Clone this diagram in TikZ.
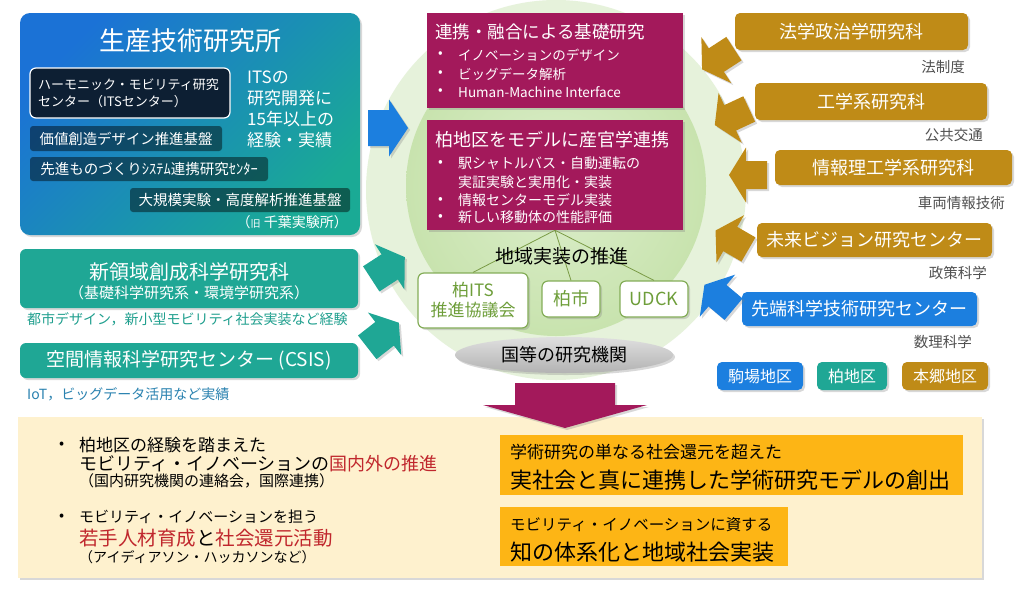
\documentclass[tikz,border=0pt]{standalone}
\usepackage{fontspec}
\setmainfont{Noto Sans CJK JP}
\usetikzlibrary{shadows,shapes.geometric}
\definecolor{cGold}{HTML}{BF8B17}
\definecolor{cTeal}{HTML}{1FA795}
\definecolor{cBlue}{HTML}{1C7FDF}
\definecolor{cMag}{HTML}{A3195B}
\definecolor{cOr}{HTML}{FDB515}
\definecolor{cCream}{HTML}{FEF1CE}
\definecolor{cRed}{HTML}{C0272D}
\definecolor{cGreen}{HTML}{6E9E3A}
\definecolor{cNavy}{HTML}{0D1F33}
\definecolor{cCap}{HTML}{505050}
\definecolor{cSkA}{HTML}{1B72D6}
\definecolor{cSkB}{HTML}{1AAA95}
\definecolor{cLG1}{HTML}{E6F2DB}
\definecolor{cLG2}{HTML}{C8E3AE}
\definecolor{cLG3}{HTML}{DCEECB}
\definecolor{cTealT}{HTML}{1F9F8E}
\definecolor{cBlueT}{HTML}{2A82B0}
\definecolor{cLine}{HTML}{7A9B45}
\newcommand{\fsz}[1]{\fontsize{#1}{#1}\selectfont}
\newcommand{\barrow}[8]{%
  \fill[#4, shd, shift={(#1,#2)}, rotate=#3]
    ({-#5/2},{-#7/2}) -- ({#5/2-#8},{-#7/2}) -- ({#5/2-#8},{-#6/2}) -- ({#5/2},0)
    -- ({#5/2-#8},{#6/2}) -- ({#5/2-#8},{#7/2}) -- ({-#5/2},{#7/2}) -- cycle;}
\tikzset{
  shd/.style={drop shadow={opacity=0.3, shadow xshift=2pt, shadow yshift=-2pt}},
  lbl/.style={inner sep=0pt, anchor=west},
  sz/.style 2 args={minimum width=#1pt, minimum height=#2pt},
  dbox/.style={fill=black, fill opacity=0.45, text opacity=1, text=white, rounded corners=3pt, inner sep=0pt},
  tbox/.style={fill=cTeal, rounded corners=6pt, shd, inner sep=0pt},
  gbox/.style={fill=cGold, rounded corners=5pt, text=white, font=\fsz{18}, shd, inner sep=0pt},
  bbox/.style={fill=cBlue, rounded corners=5pt, text=white, font=\fsz{18}, shd, inner sep=0pt},
  mbox/.style={fill=cMag, shd, inner sep=0pt},
  wbox/.style={fill=white, draw=cGreen!85, line width=1.2pt, rounded corners=6pt, text=cGreen, shd, inner sep=0pt},
  obox/.style={fill=cOr, inner sep=0pt},
  rcap/.style={inner sep=0pt, anchor=east, text=cCap, font=\fsz{14.5}},
  wt/.style={lbl, text=white},
}
\begin{document}
\begin{tikzpicture}[x=1pt,y=-1pt]
\useasboundingbox (0,0) rectangle (1022,598);
\fill[white] (0,0) rectangle (1022,598);
% background circles
\fill[cLG1] (556,190) circle (190pt);
\shade[inner color=cLG3, outer color=cLG2] (556,186) circle (150pt);

% ---- left top block
\node[shd, rounded corners=10pt, top color=cSkA, bottom color=cSkB, shading angle=45, sz={340}{222}, inner sep=0pt] (sk) at (190,124) {};
\node[text=white, font=\fsz{26}, inner sep=0pt] (sktitle) at (190,41) {生産技術研究所};
\node[fill=cNavy, draw=white, line width=1.2pt, rounded corners=6pt, sz={200}{50}, text width=184pt, inner xsep=8pt, align=left, text=white, font=\fontsize{13}{17}\selectfont] (its) at (130,93) {ハーモニック・モビリティ研究\\センター（ITSセンター）};
\node[wt, font=\fsz{17}] (itsA) at (247,77) {ITSの};
\node[wt, font=\fsz{17}] (itsB) at (247,98) {研究開発に};
\node[wt, font=\fsz{17}] (itsC) at (247,119) {15年以上の};
\node[wt, font=\fsz{17}] (itsD) at (247,140) {経験・実績};
\node[dbox, sz={192}{25}, font=\fsz{14.4}] (kachi) at (126,138.5) {価値創造デザイン推進基盤};
\node[dbox, sz={238}{24}, font=\fsz{14.5}] (senshin) at (149,169) {先進ものづくりｼｽﾃﾑ連携研究ｾﾝﾀｰ};
\node[dbox, sz={220}{24}, font=\fsz{14.5}] (daiki) at (240,200) {大規模実験・高度解析推進基盤};
\node[inner sep=0pt, anchor=east, text=white, font=\fsz{14}] (kyu) at (348,222) {（{\fsz{10}旧} 千葉実験所）};

% ---- left teal blocks
\node[tbox, sz={338}{59}] (shin) at (189,278.5) {};
\node[text=white, font=\fsz{20}, inner sep=0pt] (shinA) at (189,272) {新領域創成科学研究科};
\node[text=white, font=\fsz{15}, inner sep=0pt] (shinB) at (189,293) {（基礎科学研究系・環境学研究系）};
\node[lbl, text=cTealT, font=\fsz{14}] (capShin) at (27,319) {都市デザイン，新小型モビリティ社会実装など経験};
\node[tbox, sz={338}{35}, font=\fsz{19}, text=white] (csis) at (189,360.5) {空間情報科学研究センター (CSIS)};
\node[lbl, text=cBlueT, font=\fsz{14}] (capCsis) at (27,394) {IoT，ビッグデータ活用など実績};

% ---- centre magenta boxes
\node[mbox, sz={256}{95}] (kiso) at (555,60.5) {};
\node[wt, font=\fsz{17.5}] (kisoT) at (435,32) {連携・融合による基礎研究};
\node[wt, font=\fsz{13.5}] (kb1) at (438,55) {•};
\node[wt, font=\fsz{13.5}] (kt1) at (458,55) {イノベーションのデザイン};
\node[wt, font=\fsz{13.5}] (kb2) at (438,74) {•};
\node[wt, font=\fsz{13.5}] (kt2) at (458,74) {ビッグデータ解析};
\node[wt, font=\fsz{13.5}] (kb3) at (438,92) {•};
\node[wt, font=\fsz{13.5}] (kt3) at (458,92) {Human-Machine Interface};

\node[mbox, sz={256}{110}] (kw) at (555,175) {};
\node[wt, font=\fsz{18}] (kwT) at (435,140) {柏地区をモデルに産官学連携};
\node[wt, font=\fsz{14}] (wb1) at (438,163) {•};
\node[wt, font=\fsz{14}] (wt1) at (458,163) {駅シャトルバス・自動運転の};
\node[wt, font=\fsz{14}] (wt1b) at (458,182) {実証実験と実用化・実装};
\node[wt, font=\fsz{14}] (wb2) at (438,200) {•};
\node[wt, font=\fsz{14}] (wt2) at (458,200) {情報センターモデル実装};
\node[wt, font=\fsz{14}] (wb3) at (438,217) {•};
\node[wt, font=\fsz{14}] (wt3) at (458,217) {新しい移動体の性能評価};

% ---- local implementation
\node[wbox, sz={110}{55}, align=center, font=\fontsize{17}{20}\selectfont] (kits) at (473,300.5) {柏ITS\\推進協議会};
\node[wbox, sz={58}{36}, font=\fsz{18}] (kashi) at (571,299) {柏市};
\node[wbox, sz={68}{36}, font=\fsz{18}] (udck) at (654,299) {UDCK};
\draw[cLine, line width=0.8pt] (kw.south) -- (kits.north);
\draw[cLine, line width=0.8pt] (kw.south) -- (kashi.north);
\draw[cLine, line width=0.8pt] (kw.south) -- (udck.north);
\node[inner sep=0pt, font=\fsz{19}] (chiiki) at (562,256) {地域実装の推進};
\node[ellipse, sz={218}{36}, top color=gray!25, bottom color=gray!60, shd, inner sep=0pt, font=\fsz{18}] (kuni) at (564,355) {国等の研究機関};

% ---- right column
\node[gbox, sz={233}{37}] (hou) at (851.5,31.5) {法学政治学研究科};
\node[rcap] (capHou) at (965,67) {法制度};
\node[gbox, sz={232}{37}] (kou) at (871,101.5) {工学系研究科};
\node[rcap] (capKou) at (983,135) {公共交通};
\node[gbox, sz={237}{35}] (jou) at (893.5,167.5) {情報理工学系研究科};
\node[rcap] (capJou) at (1005,203) {車両情報技術};
\node[gbox, sz={235}{34}] (mirai) at (874.5,240) {未来ビジョン研究センター};
\node[rcap] (capMirai) at (987,273) {政策科学};
\node[bbox, sz={235}{34}] (sentan) at (859.5,309) {先端科学技術研究センター};
\node[rcap] (capSentan) at (972,342) {数理科学};
\node[bbox, sz={86}{28}, font=\fsz{16}] (komaba) at (760,376) {駒場地区};
\node[tbox, sz={70}{28}, font=\fsz{16}, text=white, rounded corners=5pt] (kashiwa) at (852,376) {柏地区};
\node[gbox, sz={86}{28}, font=\fsz{16}] (hongo) at (945,376) {本郷地区};

% ---- block arrows
\barrow{388}{128}{0}{cBlue}{40}{57}{36}{19}
\barrow{388}{268}{33}{cTeal}{40}{54}{30}{18}
\barrow{383}{335}{38}{cTeal}{40}{54}{30}{18}
\barrow{718}{59}{213}{cGold}{38}{55}{28}{17}
\barrow{732}{117}{205}{cGold}{38}{55}{28}{17}
\barrow{748}{175}{180}{cGold}{38}{55}{28}{17}
\barrow{732}{240}{150}{cGold}{38}{55}{28}{17}
\barrow{719}{297}{140}{cBlue}{38}{55}{28}{17}

% ---- bottom block
\node[fill=cCream, shd, sz={964}{161}, inner sep=0pt] (bot) at (500,497.5) {};
\barrow{565}{405.5}{-90}{cMag}{45}{164}{100}{23}
\node[lbl, font=\fsz{15}] (bu1) at (59,445) {•};
\node[lbl, font=\fsz{17}] (b1a) at (79,445) {柏地区の経験を踏まえた};
\node[lbl, font=\fsz{18}] (b1b) at (79,464) {モビリティ・イノベーションの\textcolor{cRed}{国内外の推進}};
\node[lbl, font=\fsz{15}] (b1c) at (79,481) {（国内研究機関の連絡会，国際連携）};
\node[lbl, font=\fsz{15}] (bu2) at (59,517) {•};
\node[lbl, font=\fsz{15}] (b2a) at (79,517) {モビリティ・イノベーションを担う};
\node[lbl, font=\fsz{19.5}] (b2b) at (79,538) {\textcolor{cRed}{若手人材育成}と\textcolor{cRed}{社会還元活動}};
\node[lbl, font=\fsz{14}] (b2c) at (79,557) {（アイディアソン・ハッカソンなど）};

\node[obox, sz={463}{60}] (oa) at (731.5,465) {};
\node[lbl, font=\fsz{17}] (oa1) at (510,452) {学術研究の単なる社会還元を超えた};
\node[lbl, font=\fsz{22}] (oa2) at (510,480) {実社会と真に連携した学術研究モデルの創出};
\node[obox, sz={288}{59}] (ob) at (644,536.5) {};
\node[lbl, font=\fsz{15.5}] (ob1) at (510,525) {モビリティ・イノベーションに資する};
\node[lbl, font=\fsz{22}] (ob2) at (510,552) {知の体系化と地域社会実装};
\end{tikzpicture}
\end{document}
